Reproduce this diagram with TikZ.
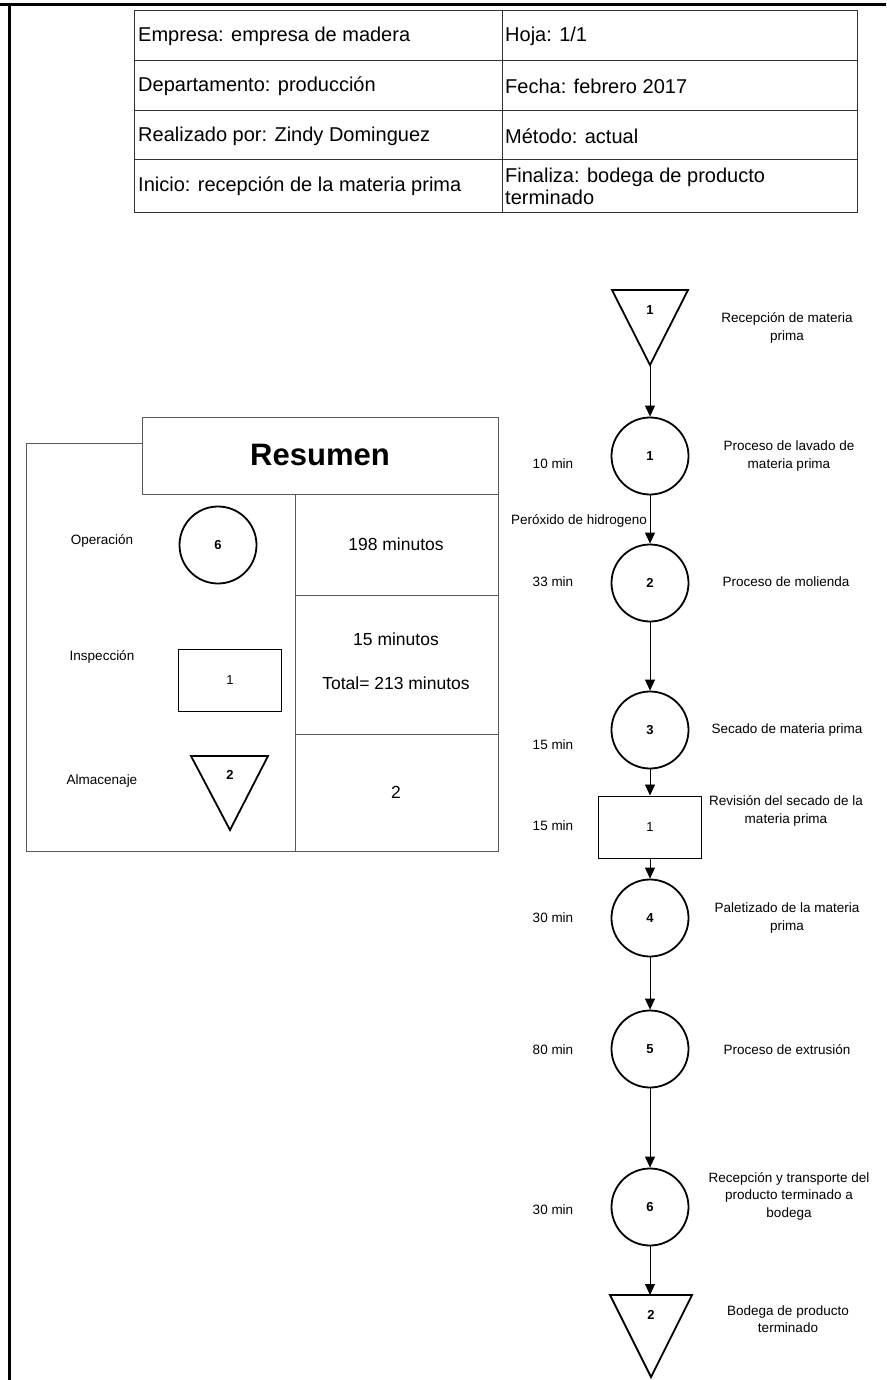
\documentclass[tikz,border=0pt]{standalone}
\usepackage{fontspec}
\setmainfont{Liberation Sans}
\usetikzlibrary{arrows.meta}
\begin{document}
\begin{tikzpicture}[x=1pt,y=-1pt,
  tbl/.style={draw=black!80,line width=1pt},
  frm/.style={draw=black!65,line width=1pt},
  cell/.style={anchor=west,inner sep=0pt,font=\fontsize{20}{22}\selectfont,align=left},
  big/.style={inner sep=0pt,font=\fontsize{17.5}{21}\selectfont,align=center},
  lbl/.style={inner sep=0pt,font=\fontsize{13.5}{17.5}\selectfont,align=center},
  opc/.style={draw,circle,line width=1.8pt,minimum size=77pt,inner sep=0pt,font=\fontsize{13}{15}\selectfont\bfseries},
  insp/.style={draw,line width=1pt,minimum width=103pt,minimum height=62pt,inner sep=0pt,font=\fontsize{13}{15}\selectfont},
  tri/.style={draw,line width=1.8pt,line join=miter},
  num/.style={inner sep=0pt,font=\fontsize{13}{15}\selectfont\bfseries},
  arr/.style={line width=0.9pt,-{Triangle[length=11pt,width=10pt]}}
]
\useasboundingbox (0,0) rectangle (886,1380);
% page border
\draw[line width=3pt] (0,5) -- (886,5);
\draw[line width=3pt] (9,5) -- (9,1380);

% header table
\draw[tbl] (134,11) rectangle (857,213);
\draw[tbl] (134,61) -- (857,61);
\draw[tbl] (134,111) -- (857,111);
\draw[tbl] (134,160) -- (857,160);
\draw[tbl] (502,11) -- (502,213);
\node[cell] (h1) at (138,36) {Empresa: empresa de madera};
\node[cell] (h2) at (505,36) {Hoja: 1/1};
\node[cell] (h3) at (138,86) {Departamento: producción};
\node[cell] (h4) at (505,86) {Fecha: febrero 2017};
\node[cell] (h5) at (138,136) {Realizado por: Zindy Dominguez};
\node[cell] (h6) at (505,136) {Método: actual};
\node[cell] (h7) at (138,186) {Inicio: recepción de la materia prima};
\node[cell] (h8) at (505,186) {Finaliza: bodega de producto\\terminado};

% summary
\draw[frm] (142,443) -- (26,443) -- (26,851) -- (498,851) -- (498,494);
\draw[frm] (142,417) rectangle (498,494);
\draw[frm] (295,494) -- (295,851);
\draw[frm] (295,595) -- (498,595);
\draw[frm] (295,734) -- (498,734);
\node[inner sep=0pt,font=\fontsize{31}{35}\selectfont\bfseries] (res) at (320,455) {Resumen};
\node[lbl] (sop) at (102,541) {Operación};
\node[lbl] (sin) at (102,657) {Inspección};
\node[lbl] (sal) at (102,781) {Almacenaje};
\node[opc] (sc) at (218,545) {6};
\node[insp] (sr) at (230,680) {1};
\draw[tri] (191,756) -- (268,756) -- (230,830) -- cycle;
\node[num] (st) at (230,775) {2};
\node[big] (v1) at (396,544) {198 minutos};
\node[big] (v2) at (396,639) {15 minutos};
\node[big] (v3) at (396,683) {Total= 213 minutos};
\node[big] (v4) at (396,792) {2};

% flow chart
\draw[tri] (612,290) -- (688,290) -- (650,365) -- cycle;
\node[num] (t1) at (650,310) {1};
\coordinate (t1b) at (650,365);
\node[opc] (c1) at (650,456) {1};
\node[opc] (c2) at (650,583) {2};
\node[opc] (c3) at (650,730) {3};
\node[insp] (r1) at (650,827) {1};
\node[opc] (c4) at (650,918) {4};
\node[opc] (c5) at (650,1049) {5};
\node[opc] (c6) at (650,1207) {6};
\draw[tri] (610,1295) -- (692,1295) -- (651,1377) -- cycle;
\node[num] (t2) at (651,1315) {2};
\coordinate (t2t) at (650,1295);

\draw[arr] (t1b) -- (c1);
\draw[arr] (c1) -- (c2);
\draw[arr] (c2) -- (c3);
\draw[arr] (c3) -- (r1);
\draw[arr] (r1) -- (c4);
\draw[arr] (c4) -- (c5);
\draw[arr] (c5) -- (c6);
\draw[arr] (c6.south) -- (t2t);

% labels
\node[lbl] (l1) at (787,328) {Recepción de materia\\prima};
\node[lbl] (l2) at (789,456) {Proceso de lavado de\\materia prima};
\node[lbl] (m1) at (553,464) {10 min};
\node[lbl] (px) at (579,521) {Peróxido de hidrogeno};
\node[lbl] (m2) at (553,582) {33 min};
\node[lbl] (l3) at (786,582) {Proceso de molienda};
\node[lbl] (m3) at (553,745) {15 min};
\node[lbl] (l4) at (787,730) {Secado de materia prima};
\node[lbl] (m4) at (553,826) {15 min};
\node[lbl] (l5) at (786,811) {Revisión del secado de la\\materia prima};
\node[lbl] (m5) at (553,918) {30 min};
\node[lbl] (l6) at (787,918) {Paletizado de la materia\\prima};
\node[lbl] (m6) at (553,1050) {80 min};
\node[lbl] (l7) at (787,1050) {Proceso de extrusión};
\node[lbl] (m7) at (553,1210) {30 min};
\node[lbl] (l8) at (789,1196) {Recepción y transporte del\\producto terminado a\\bodega};
\node[lbl] (l9) at (788,1319) {Bodega de producto\\terminado};
\end{tikzpicture}
\end{document}
